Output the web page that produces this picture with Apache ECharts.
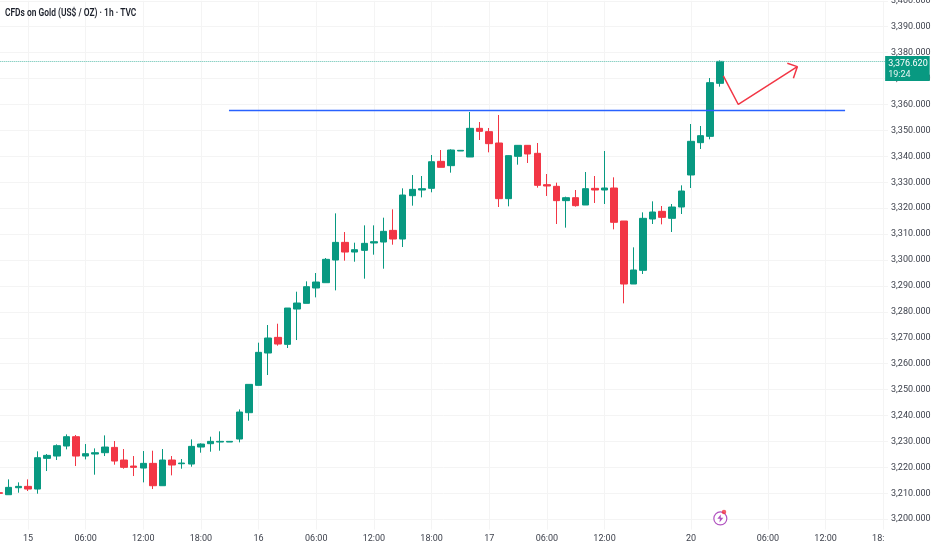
<!DOCTYPE html>
<html><head><meta charset="utf-8">
<style>html,body{margin:0;padding:0;background:#fff}#c{width:932px;height:550px}</style>
<script src="https://cdn.jsdelivr.net/npm/echarts@6/dist/echarts.min.js"></script>
</head><body><div id="c"></div>
<script>
const chartTitle = 'CFDs on Gold (US$ / OZ) · 1h · TVC';
const slotCount = 93;
const tickSlots  = [3,9,15,21,27,33,39,45,51,57,63,72,80,86,92];
const tickLabels = ['15','06:00','12:00','18:00','16','06:00','12:00','18:00','17','06:00','12:00','20','06:00','12:00','18:'];
const priceTicks = [3200,3210,3220,3230,3240,3250,3260,3270,3280,3290,3300,3310,3320,3330,3340,3350,3360,3370,3380,3390,3400];
const opens = [3210.23,3209.46,3212.16,3212.68,3211.65,3223.48,3224.38,3228.24,3231.84,3224.38,3225.15,3225.67,3227.72,3222.84,3220.52,3219.75,3221.55,3212.93,3222.84,3221.42,3221.29,3227.85,3229.14,3229.78,3229.78,3230.94,3241.10,3251.64,3264.12,3270.16,3267.46,3281.09,3283.28,3289.20,3291.25,3300.00,3306.81,3303.08,3303.73,3306.56,3306.94,3311.44,3308.10,3324.82,3327.00,3327.65,3338.07,3336.40,3342.06,3339.74,3350.80,3349.52,3345.14,3323.67,3340.00,3344.24,3341.16,3329.07,3328.43,3322.90,3324.05,3321.22,3327.65,3327.01,3327.78,3315.05,3290.74,3296.02,3315.82,3318.78,3316.08,3320.45,3332.80,3345.27,3347.71,3368.16];
const closes = [3209.98,3212.29,3212.68,3211.65,3223.74,3224.64,3228.37,3231.84,3224.38,3225.28,3225.67,3227.85,3222.45,3220.01,3220.01,3221.55,3212.93,3222.84,3220.91,3221.68,3228.11,3229.01,3230.04,3230.04,3230.04,3241.35,3252.03,3264.38,3269.91,3267.59,3281.48,3283.41,3289.71,3291.51,3300.26,3306.81,3303.08,3303.98,3306.43,3307.07,3311.06,3308.10,3325.07,3327.26,3327.52,3337.92,3335.76,3342.44,3342.31,3350.80,3349.64,3344.89,3323.67,3340.26,3344.24,3340.90,3328.81,3328.55,3322.90,3324.05,3320.97,3327.52,3327.01,3327.78,3314.54,3290.74,3296.15,3316.08,3318.52,3316.46,3320.45,3326.62,3345.79,3347.97,3368.42,3376.62];
const lows = [3209.85,3209.46,3210.23,3210.88,3209.85,3218.59,3222.84,3226.95,3220.52,3223.09,3217.18,3224.38,3221.04,3219.49,3216.66,3214.22,3211.65,3212.93,3216.92,3219.49,3220.26,3225.67,3226.05,3226.44,3229.78,3229.65,3238.01,3251.64,3255.63,3266.95,3266.05,3269.13,3283.28,3285.59,3291.25,3288.29,3299.74,3299.35,3292.80,3302.06,3296.65,3305.91,3305.01,3320.96,3324.17,3326.12,3335.76,3333.70,3342.06,3339.74,3346.30,3341.54,3320.45,3320.71,3336.78,3337.43,3327.91,3324.70,3313.89,3312.48,3320.58,3321.22,3322.00,3321.61,3311.83,3283.29,3290.74,3294.60,3313.89,3313.76,3310.81,3317.75,3327.78,3342.83,3346.56,3366.88];
const highs = [3210.36,3215.38,3214.22,3215.38,3226.18,3225.15,3228.88,3232.74,3232.48,3229.01,3227.34,3232.35,3230.17,3227.08,3224.38,3226.31,3226.44,3227.08,3224.38,3223.22,3230.81,3229.27,3231.84,3233.90,3230.04,3242.38,3252.03,3268.11,3274.92,3275.43,3281.48,3287.78,3291.77,3294.98,3300.77,3318.00,3310.80,3306.69,3313.37,3313.37,3316.33,3319.55,3327.65,3332.79,3332.41,3340.51,3342.44,3342.70,3342.31,3357.10,3353.24,3350.93,3355.95,3340.38,3344.37,3344.37,3345.14,3333.18,3329.84,3324.44,3327.01,3333.95,3332.41,3342.06,3331.90,3315.05,3304.89,3318.39,3322.64,3320.84,3321.61,3328.81,3352.47,3351.70,3370.22,3377.00];
const lastPrice = 3376.62;
const lastPriceLabel = '3,376.620';
const countdown = '19:24';
const resistanceLine = [[23.92,3357.7],[88.03,3357.7]];
const projectionPath = [[75.36,3371.0],[76.92,3360.0],[83.06,3374.6]];
const projectionHead = [[82.02,3375.9],[83.06,3374.6],[82.65,3370.1]];
const eventPoint = [[75.05,3200.3]];
const eventDot = [[75.43,3202.8]];

const GREEN='#089981', RED='#f23645', GRID='#f4f4f4', TEXT='#3b3f4a';
const candles = opens.map((o,i)=>[o,closes[i],lows[i],highs[i]]);
const cats = Array.from({length:slotCount},(_,i)=>{const k=tickSlots.indexOf(i);return k<0?'s'+i:tickLabels[k]+'#'+i;});
const FONT='Roboto,sans-serif';
const chart = echarts.init(document.getElementById('c'),null,{renderer:'canvas'});
function lineSeries(data,color,width,extra){return Object.assign({type:'line',xAxisIndex:1,yAxisIndex:0,data,symbol:'none',silent:true,animation:false,clip:false,z:5,lineStyle:{color,width}},extra||{});}
chart.setOption({
  animation:false,
  backgroundColor:'#ffffff',
  graphic:[{type:'text',x:5,y:8,scaleX:0.8,z:20,style:{text:chartTitle,fill:'#1b1f2a',font:'600 10.5px Roboto,sans-serif'}}],
  grid:{left:-5.7,width:893.73,top:0.8,height:528.8,containLabel:false,outerBoundsMode:'none'},
  xAxis:[
   {type:'category',data:cats,boundaryGap:true,axisLine:{show:false},axisTick:{show:false},splitLine:{show:false},
    axisLabel:{show:true,margin:5,hideOverlap:false,interval:(i)=>tickSlots.indexOf(i)>=0,
      formatter:(v)=>{const t=v.split('#')[0];return t==='18:'?'{clip|18:}':t;},
      rich:{clip:{fontFamily:FONT,fontSize:9,color:TEXT,padding:[0,10,0,0]}},
      fontFamily:FONT,fontSize:9,color:TEXT}},
   {type:'value',min:-0.5,max:slotCount-0.5,show:true,axisLine:{show:false},axisLabel:{show:false},
    axisTick:{show:false,customValues:tickSlots},splitLine:{show:true,lineStyle:{color:GRID,width:1}}}
  ],
  yAxis:{type:'value',min:3196,max:3400,position:'right',axisLine:{show:false},
    axisTick:{show:false,customValues:priceTicks},
    splitLine:{show:true,lineStyle:{color:GRID,width:1}},
    axisLabel:{customValues:priceTicks,margin:3,showMinLabel:true,showMaxLabel:true,hideOverlap:false,
      fontFamily:FONT,fontSize:9,color:TEXT,padding:[0,0,2,0],
      formatter:(v)=>{const s=v.toFixed(3);return s.slice(0,1)+','+s.slice(1);}}},
  series:[
   {type:'candlestick',xAxisIndex:0,yAxisIndex:0,data:candles,barWidth:7,silent:true,z:3,
    itemStyle:{color:GREEN,color0:RED,borderColor:GREEN,borderColor0:RED,borderWidth:1}},
   lineSeries([[-0.5,lastPrice],[92.2,lastPrice]],'rgba(8,153,129,0)',0,{
     markLine:{silent:true,symbol:['none','none'],animation:false,z:6,
       lineStyle:{color:'#5fbfae',type:[1,1],width:1},
       label:{show:true,position:'end',distance:0,offset:[0,7],formatter:'{a|'+lastPriceLabel+'}\n{b|'+countdown+'}',
         backgroundColor:GREEN,padding:[2,2,1,3],
         rich:{a:{fontFamily:FONT,fontSize:9,color:'#fff',lineHeight:11},b:{fontFamily:FONT,fontSize:9,color:'#e6f5f2',lineHeight:11}}},
       data:[[{coord:[-0.5,lastPrice]},{coord:[92.2,lastPrice]}]]}}),
   lineSeries(resistanceLine,'#2962ff',1.6),
   lineSeries(projectionPath,RED,1.5),
   lineSeries(projectionHead,RED,1.5),
   {type:'scatter',xAxisIndex:1,yAxisIndex:0,data:eventPoint,symbol:'circle',symbolSize:13,silent:true,z:6,clip:false,
    itemStyle:{color:'#fff',borderColor:'#9c27b0',borderWidth:1.2}},
   {type:'scatter',xAxisIndex:1,yAxisIndex:0,data:eventPoint,symbol:'path://M13 2 L5 13 H11 L10 22 L19 10 H13 Z',symbolSize:[6,8],silent:true,z:7,clip:false,
    itemStyle:{color:'#9c27b0'}},
   {type:'scatter',xAxisIndex:1,yAxisIndex:0,data:eventDot,symbol:'circle',symbolSize:4.5,silent:true,z:8,clip:false,
    itemStyle:{color:RED}}
  ]
});
</script></body></html>
